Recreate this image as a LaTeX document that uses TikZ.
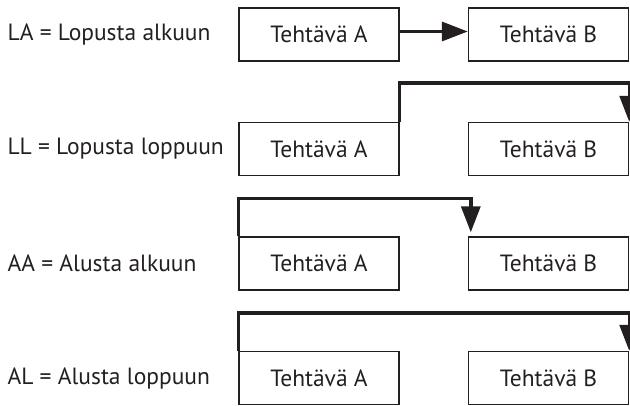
\documentclass[tikz,border=0pt]{standalone}
\usepackage{fontspec}
\setmainfont{PT Sans}
\usetikzlibrary{arrows.meta}
\definecolor{ink}{RGB}{35,31,32}
\begin{document}
\begin{tikzpicture}
                            [x=1pt,y=-1pt,
                            font=\fontsize{23.5}{28}\selectfont,
                            task/.style = {draw=ink,
                                        line width=1.4pt,
                                        minimum width=160pt,
                                        minimum height=53pt,
                                        text=ink},
                            lbl/.style = {anchor=west,text=ink},
                            link/.style = {draw=ink,
                                        line width=3.4pt,
                                        -{Triangle[length=26pt,width=19pt]}}]
                            \useasboundingbox (0,0) rectangle (630,405);
                            % rows of task pairs
                            \node[task] (A1) at (319,34.5) {Tehtävä A};
                            \node[task] (B1) at (548.5,34.5) {Tehtävä B};
                            \node[task] (A2) at (319,149) {Tehtävä A};
                            \node[task] (B2) at (548.5,149) {Tehtävä B};
                            \node[task] (A3) at (319,263.5) {Tehtävä A};
                            \node[task] (B3) at (548.5,263.5) {Tehtävä B};
                            \node[task] (A4) at (319,378) {Tehtävä A};
                            \node[task] (B4) at (548.5,378) {Tehtävä B};
                            % dependency names
                            \node[lbl] (LA) at (4,34.5) {LA = Lopusta alkuun};
                            \node[lbl] (LL) at (4,149) {LL = Lopusta loppuun};
                            \node[lbl] (AA) at (4,263.5) {AA = Alusta alkuun};
                            \node[lbl] (AL) at (4,378) {AL = Alusta loppuun};
                            % dependency arrows
                            \draw[link] ([yshift=3pt]A1.east) -- ([yshift=3pt]B1.west);
                            \draw[link] (A2.north east) -- ++(0,-39) -| (B2.north east);
                            \draw[link] (A3.north west) -- ++(0,-38) -| ([xshift=3pt,yshift=4pt]B3.north west);
                            \draw[link] (A4.north west) -- ++(0,-38) -| (B4.north east);
                        \end{tikzpicture}
\end{document}
